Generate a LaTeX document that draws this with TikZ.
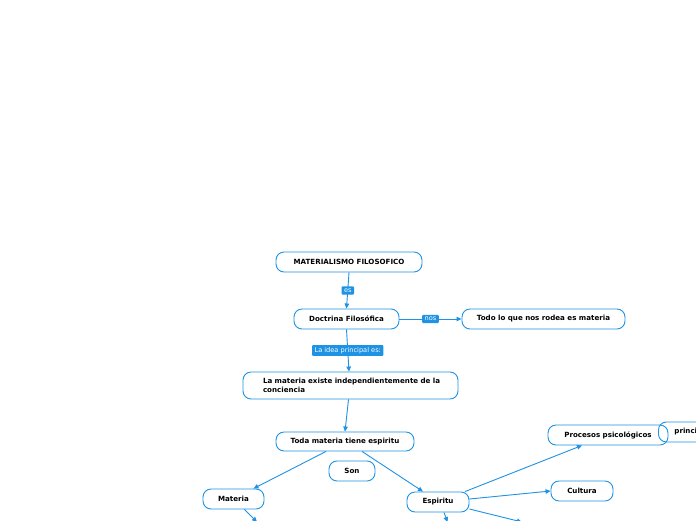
\documentclass[tikz,border=0pt]{standalone}
\usepackage{fontspec}
\setmainfont{DejaVu Sans}
\usetikzlibrary{arrows.meta}
\definecolor{mmblue}{RGB}{30,146,228}
\begin{document}
\begin{tikzpicture}[x=1pt,y=-1pt,
  box/.style={draw=mmblue, line width=0.9pt, rounded corners=8pt, fill=white,
    font=\fontsize{7.1}{8.4}\selectfont\bfseries, inner sep=0pt, text=black},
  lbl/.style={fill=mmblue, text=white, font=\fontsize{6.6}{7.5}\selectfont,
    inner xsep=2.5pt, inner ysep=2.2pt, rounded corners=1pt},
  conn/.style={draw=mmblue, line width=0.9pt, -{Triangle[length=5pt,width=4.5pt]}}]
\useasboundingbox (0,0) rectangle (696,520);
\clip (0,0) rectangle (696,520);
\fill[white] (0,0) rectangle (696,520);

\node[box, minimum width=146, minimum height=20] (mat) at (349,262) {MATERIALISMO FILOSOFICO};
\node[box, minimum width=105, minimum height=20] (doc) at (346.5,319) {Doctrina Filosófica};
\node[box, minimum width=163, minimum height=20] (todo) at (543.5,319) {Todo lo que nos rodea es materia};
\node[box, minimum width=215, minimum height=27, text width=175, inner xsep=20, align=left] (lam) at (350.5,385.5) {\mbox{La materia existe independientemente de la}\\conciencia};
\node[box, minimum width=138, minimum height=19] (toda) at (345,441.5) {Toda materia tiene espiritu};
\node[box, minimum width=46, minimum height=20] (son) at (352,471) {Son};
\node[box, minimum width=61, minimum height=20] (mater) at (233.5,499) {Materia};
\node[box, minimum width=62, minimum height=20] (esp) at (438,502) {Espiritu};
\node[box, fill=none, minimum height=20, inner xsep=16, anchor=west] (prin) at (658,432) {princi};
\node[box, fill=none, minimum width=120, minimum height=20] (proc) at (608,435) {Procesos psicológicos};
\node[box, minimum width=62, minimum height=20] (cul) at (582,491) {Cultura};

\coordinate (m1) at (257,522);
\coordinate (e1) at (447.5,522);
\coordinate (e2) at (522,522);

\draw[conn] (mat.south) -- (doc.north) node[lbl, midway] {es};
\draw[conn] (doc.east) -- (todo.west) node[lbl, midway] {nos};
\draw[conn] (doc.south) -- ([xshift=-1.5pt]lam.north) node[lbl, pos=0.5] {La idea principal es:};
\draw[conn] ([xshift=-2pt]lam.south) -- (toda.north);
\draw[conn] ([xshift=-19pt]toda.south) -- ([xshift=20pt]mater.north);
\draw[conn] ([xshift=17pt]toda.south) -- ([xshift=-15pt]esp.north);
\draw[conn] ([xshift=27pt]esp.north) -- ([xshift=-26pt]proc.south);
\draw[conn] ([yshift=3pt]esp.east) -- (cul.west);
\draw[conn] ([yshift=-7pt]esp.east) -- (e2);
\draw[conn] ([xshift=6pt]esp.south) -- (e1);
\draw[conn] ([xshift=11pt]mater.south) -- (m1);
\end{tikzpicture}
\end{document}
